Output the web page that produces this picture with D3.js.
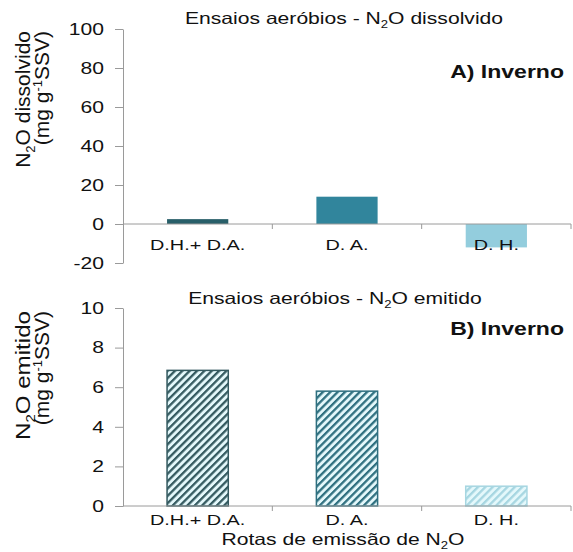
<!DOCTYPE html>
<html>
<head>
<meta charset="utf-8">
<script src="https://cdn.jsdelivr.net/npm/d3@7"></script>
<style>
  html, body { margin: 0; padding: 0; background: #fff; }
  svg { display: block; font-family: "Liberation Sans", Arial, sans-serif; }
</style>
</head>
<body>
<svg id="chart" width="573" height="552"></svg>
<script>
// Emission routes of N2O
const categories = ["D.H.+ D.A.", "D. A.", "D. H."];
// Dissolved N2O (mg g-1 SSV), winter aerobic tests
const dissolvedValues = [2.5, 14, -12];
// Emitted N2O (mg g-1 SSV), winter aerobic tests
const emittedValues = [6.85, 5.8, 1.0];
const dissolvedTicks = [-20, 0, 20, 40, 60, 80, 100];
const emittedTicks = [0, 2, 4, 6, 8, 10];

const solidColors = ["#285f69", "#31859c", "#93cddd"];
const hatchColors = ["#345a60", "#2f7080", "#a6d6e1"];
const hatchBg = "#e4f8fb";
const axisColor = "#9a9a9a";
const SX = 1.28;   // horizontal stretch applied to horizontal labels

const svg = d3.select("#chart");
const left = 123, right = 571;

const x = d3.scaleBand().domain(categories).range([left, right])
  .paddingInner(0.59).paddingOuter(0.295);

// hatch patterns for the emitted bars
const defs = svg.append("defs");
hatchColors.forEach((c, i) => {
  const p = defs.append("pattern")
    .attr("id", "hatch" + i)
    .attr("patternUnits", "userSpaceOnUse")
    .attr("width", 5.2).attr("height", 10)
    .attr("patternTransform", "rotate(45)");
  p.append("rect").attr("width", 5.2).attr("height", 10).attr("fill", hatchBg);
  p.append("rect").attr("width", 2.3).attr("height", 10).attr("fill", c);
});

// text helper: parts = [[text, kind]] with kind "", "sub" or "sup"
function label(g, px, py, parts, opts) {
  const o = Object.assign({ size: 16, weight: "normal", anchor: "middle", sx: SX, rot: 0 }, opts);
  const t = g.append("text")
    .attr("transform", `translate(${px},${py}) rotate(${o.rot}) scale(${o.sx},1)`)
    .attr("text-anchor", o.anchor)
    .attr("font-size", o.size)
    .attr("font-weight", o.weight)
    .attr("fill", "#111");
  let shift = 0;
  parts.forEach(([s, kind]) => {
    const target = kind === "sub" ? o.size * 0.25 : kind === "sup" ? -o.size * 0.33 : 0;
    const ts = t.append("tspan").text(s).attr("dy", target - shift);
    if (kind) ts.attr("font-size", o.size * 0.62);
    shift = target;
  });
  return t;
}

function panel(cfg) {
  const g = svg.append("g");
  const y = d3.scaleLinear().domain(cfg.domain).range(cfg.range);

  // value axis
  const ya = g.append("g").attr("transform", `translate(${left},0)`)
    .call(d3.axisLeft(y).tickValues(cfg.ticks).tickSize(8).tickSizeOuter(0).tickFormat(d => String(d)));
  ya.select(".domain").attr("stroke", axisColor);
  ya.selectAll(".tick line").attr("stroke", axisColor);
  ya.selectAll(".tick text")
    .attr("x", null)
    .attr("transform", `translate(-19,0) scale(${SX},1)`)
    .attr("font-size", 16.5)
    .attr("font-family", "Liberation Sans, Arial, sans-serif")
    .attr("fill", "#111");

  // bars
  g.selectAll("rect.bar").data(cfg.values).join("rect")
    .attr("class", "bar")
    .attr("x", (d, i) => x(categories[i]))
    .attr("width", x.bandwidth())
    .attr("y", d => y(Math.max(0, d)))
    .attr("height", d => Math.abs(y(d) - y(0)))
    .attr("fill", (d, i) => cfg.fill(i))
    .attr("stroke", (d, i) => cfg.stroke(i))
    .attr("stroke-width", cfg.strokeWidth);

  // category axis at zero with boundary ticks
  const y0 = y(0);
  g.append("line").attr("x1", left).attr("x2", right).attr("y1", y0).attr("y2", y0)
    .attr("stroke", axisColor);
  const bounds = categories.map(c => x(c) + x.bandwidth() / 2 + x.step() / 2);
  g.selectAll("line.btick").data(bounds).join("line")
    .attr("class", "btick")
    .attr("x1", d => d).attr("x2", d => d)
    .attr("y1", y0).attr("y2", y0 + 5)
    .attr("stroke", axisColor);
  categories.forEach(c => {
    label(g, x(c) + x.bandwidth() / 2, y0 + cfg.catOffset, [[c, ""]], { size: 15.5 });
  });

  // chart title and season tag
  label(g, cfg.titleX, cfg.titleY, cfg.title, { size: 16.5 });
  label(g, 564, cfg.tagY, [[cfg.tag, ""]], { size: 18, weight: "bold", anchor: "end" });

  // rotated value-axis title (two lines)
  label(g, 30, cfg.ylabTop, cfg.ylab1, { size: 21, anchor: "end", rot: -90, sx: cfg.ylabSx });
  label(g, 49, cfg.ylabTop, cfg.ylab2, { size: 20, anchor: "end", rot: -90, sx: 1.05 });
  return g;
}

panel({
  domain: [-20, 100], range: [263, 29], ticks: dissolvedTicks,
  values: dissolvedValues,
  fill: i => solidColors[i], stroke: i => "none", strokeWidth: 0,
  catOffset: 26,
  title: [["Ensaios aeróbios - N", ""], ["2", "sub"], ["O dissolvido", ""]],
  titleX: 344, titleY: 24,
  tag: "A) Inverno", tagY: 78,
  ylab1: [["N", ""], ["2", "sub"], ["O dissolvido", ""]],
  ylab2: [["(mg g", ""], ["-1", "sup"], ["SSV)", ""]],
  ylabTop: 31, ylabSx: 1.0
});

panel({
  domain: [0, 10], range: [506, 308], ticks: emittedTicks,
  values: emittedValues,
  fill: i => `url(#hatch${i})`, stroke: i => hatchColors[i], strokeWidth: 1.5,
  catOffset: 19,
  title: [["Ensaios aeróbios - N", ""], ["2", "sub"], ["O emitido", ""]],
  titleX: 335, titleY: 304,
  tag: "B) Inverno", tagY: 335,
  ylab1: [["N", ""], ["2", "sub"], ["O emitido", ""]],
  ylab2: [["(mg g", ""], ["-1", "sup"], ["SSV)", ""]],
  ylabTop: 311, ylabSx: 1.15
});

// category axis title
label(svg, 343, 545, [["Rotas de emissão de N", ""], ["2", "sub"], ["O", ""]], { size: 16.5 });
</script>
</body>
</html>
